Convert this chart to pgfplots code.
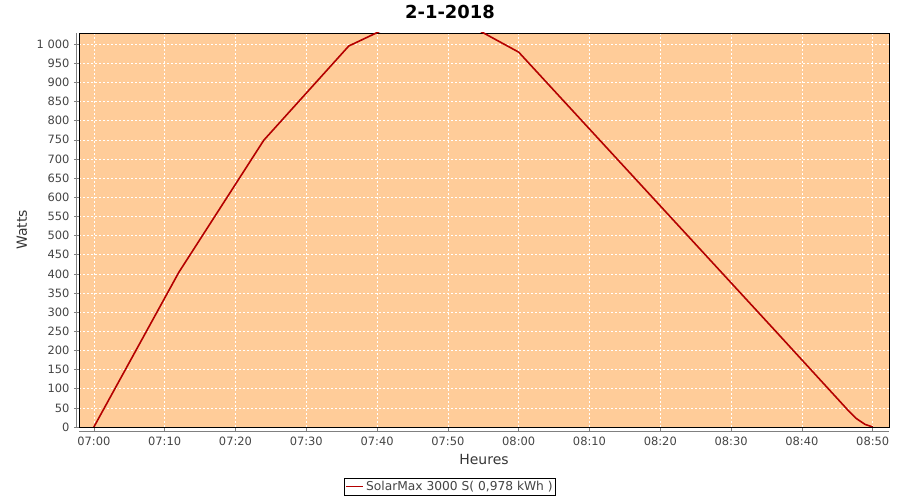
\documentclass[border=0pt]{standalone}
\usepackage{pgfplots}
\pgfplotsset{compat=1.18}
\usepackage{fontspec}
\setmainfont{DejaVu Sans}
\definecolor{bgor}{RGB}{255,204,153}
\definecolor{linered}{RGB}{180,0,0}
\definecolor{ticktxt}{RGB}{68,68,68}
\definecolor{axgray}{RGB}{128,128,128}
\begin{document}
\begin{tikzpicture}
\path[use as bounding box] (0,0) rectangle (900bp,500bp);
\begin{axis}[
  at={(79bp,73bp)}, anchor=south west,
  scale only axis, width=810bp, height=394bp,
  xmin=-2.1, xmax=112.3, ymin=0, ymax=1029,
  axis background/.style={fill=bgor},
  axis line style={black, line width=0.8bp},
  xtick={0,10,...,110},
  xticklabels={07:00,07:10,07:20,07:30,07:40,07:50,08:00,08:10,08:20,08:30,08:40,08:50},
  ytick={0,50,...,1000},
  yticklabels={0,50,100,150,200,250,300,350,400,450,500,550,600,650,700,750,800,850,900,950,1 000},
  tick align=outside, major tick length=5bp,
  tick style={axgray, line width=0.6bp},
  xtick pos=bottom, ytick pos=left,
  grid=major,
  major grid style={white, dashed, line width=0.6bp, dash pattern=on 2bp off 2bp},
  ticklabel style={font=\fontsize{11.5}{13}\selectfont, text=ticktxt},
  xticklabel style={yshift=-1bp},
  yticklabel style={xshift=-1bp},
  xlabel={Heures}, ylabel={Watts},
  label style={font=\fontsize{14}{16}\selectfont, text=ticktxt!80!black},
  xlabel style={at={(axis description cs:0.5,0)}, anchor=north, yshift=-24bp},
  ylabel style={at={(axis description cs:-0.0704,0.5)}, anchor=center, rotate=0},
  title={2-1-2018},
  title style={font=\fontsize{18}{20}\selectfont\bfseries, at={(axis description cs:0.458,1.038)}, anchor=center},
  legend style={at={(axis description cs:0.458,-0.129)}, anchor=north, draw=black, line width=0.6bp,
    font=\fontsize{12.3}{14}\selectfont, text=ticktxt, inner xsep=1bp, inner ysep=1bp, row sep=0bp},
  legend cell align=left,
  legend image post style={line width=1.8bp},
  clip=true,
]
\addplot[linered, line width=1.6bp] coordinates {
(0,0) (12,404) (24,749) (36,995) (48,1100) (60,979) (72,738) (84,497) (96,256)
(106.5,44) (107.7,22) (108.9,7) (110,0)
};
\addlegendentry{SolarMax 3000 S( 0,978 kWh )}
\end{axis}
\draw[axgray, line width=0.8bp] (76bp,73bp) -- (76bp,467bp);
\draw[axgray, line width=0.8bp] (79bp,69bp) -- (889bp,69bp);
\end{tikzpicture}
\end{document}
